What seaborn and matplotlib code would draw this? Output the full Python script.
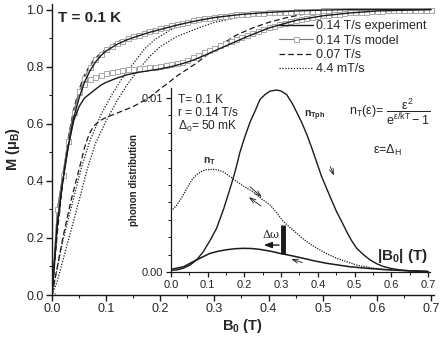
import numpy as np
import matplotlib
matplotlib.use('Agg')
import matplotlib.pyplot as plt
from matplotlib.lines import Line2D
from matplotlib.ticker import MultipleLocator, FormatStrFormatter
import seaborn as sns

# ---------------------------------------------------------------
# Main panel data: magnetisation M vs field B0

# 0.14 T/s experiment (two branches)
exp_up_x = [0, 0.01, 0.02, 0.03, 0.04, 0.05, 0.06, 0.07, 0.08, 0.09, 0.10, 0.12, 0.14, 0.16, 0.18,
            0.20, 0.23, 0.26, 0.30, 0.35, 0.40, 0.45, 0.50, 0.55, 0.60, 0.70]
exp_up_y = [0, 0.25, 0.40, 0.52, 0.62, 0.69, 0.745, 0.785, 0.815, 0.838, 0.855, 0.878, 0.895, 0.908, 0.92,
            0.93, 0.945, 0.958, 0.972, 0.983, 0.99, 0.995, 0.998, 1.0, 1.0, 1.0]
exp_lo_x = [0, 0.01, 0.02, 0.03, 0.04, 0.05, 0.06, 0.07, 0.08, 0.09, 0.10, 0.12, 0.14, 0.16, 0.18, 0.20,
            0.22, 0.24, 0.26, 0.28, 0.30, 0.33, 0.36, 0.40, 0.45, 0.50, 0.55, 0.60, 0.70]
exp_lo_y = [0, 0.25, 0.40, 0.52, 0.61, 0.66, 0.69, 0.705, 0.72, 0.735, 0.745, 0.76, 0.772, 0.78, 0.786, 0.792,
            0.80, 0.81, 0.822, 0.838, 0.855, 0.88, 0.905, 0.935, 0.962, 0.978, 0.988, 0.995, 1.0]

# 0.14 T/s model (two branches, sampled every 0.01 T)
model_x = [0.00, 0.01, 0.02, 0.03, 0.04, 0.05, 0.06, 0.07, 0.08, 0.09,
           0.10, 0.11, 0.12, 0.13, 0.14, 0.15, 0.16, 0.17, 0.18, 0.19,
           0.20, 0.21, 0.22, 0.23, 0.24, 0.25, 0.26, 0.27, 0.28, 0.29,
           0.30, 0.31, 0.32, 0.33, 0.34, 0.35, 0.36, 0.37, 0.38, 0.39,
           0.40, 0.41, 0.42, 0.43, 0.44, 0.45, 0.46, 0.47, 0.48, 0.49,
           0.50, 0.51, 0.52, 0.53, 0.54, 0.55, 0.56, 0.57, 0.58, 0.59,
           0.60, 0.61, 0.62, 0.63, 0.64, 0.65, 0.66, 0.67, 0.68, 0.69, 0.70]
model_up_y = [0.00, 0.30, 0.42, 0.54, 0.64, 0.71, 0.76, 0.80, 0.825, 0.845,
              0.86, 0.872, 0.882, 0.891, 0.899, 0.906, 0.912, 0.918, 0.924, 0.93,
              0.935, 0.94, 0.945, 0.95, 0.954, 0.958, 0.962, 0.966, 0.969, 0.972,
              0.975, 0.977, 0.979, 0.981, 0.983, 0.984, 0.986, 0.987, 0.988, 0.989,
              0.99, 0.991, 0.992, 0.993, 0.993, 0.994, 0.995, 0.995, 0.996, 0.996,
              0.997, 0.997, 0.997, 0.998, 0.998, 0.998, 0.998, 0.999, 0.999, 0.999,
              0.999, 1.0, 1.0, 1.0, 1.0, 1.0, 1.0, 1.0, 1.0, 1.0, 1.0]
model_lo_y = [0.00, 0.30, 0.42, 0.54, 0.64, 0.715, 0.74, 0.755, 0.765, 0.772,
              0.777, 0.781, 0.785, 0.788, 0.79, 0.792, 0.794, 0.796, 0.798, 0.80,
              0.802, 0.805, 0.808, 0.812, 0.817, 0.824, 0.832, 0.841, 0.85, 0.858,
              0.866, 0.874, 0.882, 0.89, 0.898, 0.905, 0.912, 0.919, 0.926, 0.932,
              0.938, 0.944, 0.949, 0.954, 0.959, 0.963, 0.967, 0.971, 0.974, 0.977,
              0.98, 0.982, 0.984, 0.986, 0.988, 0.99, 0.991, 0.992, 0.993, 0.994,
              0.995, 0.996, 0.997, 0.997, 0.998, 0.998, 0.999, 0.999, 0.999, 1.0, 1.0]

# 0.07 T/s (two branches)
d07_up_x = [0, 0.01, 0.02, 0.03, 0.04, 0.05, 0.06, 0.07, 0.08, 0.10, 0.12, 0.14, 0.16, 0.18, 0.20,
            0.24, 0.28, 0.32, 0.36, 0.40, 0.45, 0.50, 0.60, 0.70]
d07_up_y = [0, 0.22, 0.40, 0.55, 0.65, 0.72, 0.77, 0.805, 0.83, 0.862, 0.885, 0.902, 0.915, 0.927, 0.937,
            0.955, 0.968, 0.978, 0.985, 0.99, 0.994, 0.997, 1.0, 1.0]
d07_lo_x = [0, 0.01, 0.02, 0.035, 0.05, 0.06, 0.065, 0.07, 0.075, 0.08, 0.09, 0.10, 0.12, 0.15, 0.18,
            0.20, 0.233, 0.265, 0.305, 0.34, 0.37, 0.40, 0.43, 0.46, 0.50, 0.55, 0.60, 0.70]
d07_lo_y = [0, 0.10, 0.20, 0.33, 0.44, 0.515, 0.545, 0.568, 0.585, 0.597, 0.612, 0.622, 0.637, 0.66, 0.692,
            0.722, 0.77, 0.81, 0.868, 0.91, 0.935, 0.955, 0.97, 0.982, 0.992, 0.998, 1.0, 1.0]

# 4.4 mT/s (two branches)
d44_a_x = [0, 0.005, 0.02, 0.04, 0.055, 0.07, 0.09, 0.11, 0.13, 0.15, 0.17, 0.19, 0.22, 0.25, 0.30,
           0.35, 0.40, 0.50, 0.60, 0.70]
d44_a_y = [0, 0.05, 0.19, 0.34, 0.45, 0.54, 0.63, 0.70, 0.76, 0.81, 0.86, 0.895, 0.93, 0.95, 0.972,
           0.985, 0.992, 0.998, 1.0, 1.0]
d44_b_x = [0, 0.01, 0.03, 0.05, 0.065, 0.08, 0.10, 0.12, 0.14, 0.16, 0.18, 0.20, 0.23, 0.27, 0.30,
           0.35, 0.40, 0.50, 0.60, 0.70]
d44_b_y = [0, 0.05, 0.19, 0.33, 0.44, 0.53, 0.61, 0.68, 0.74, 0.79, 0.835, 0.87, 0.905, 0.935, 0.955,
           0.975, 0.987, 0.996, 1.0, 1.0]

# ---------------------------------------------------------------
# Inset data: phonon distributions vs |B0|
ntph_x = [0, 0.016, 0.034, 0.052, 0.07, 0.088, 0.106, 0.124, 0.143, 0.161, 0.175, 0.188, 0.20, 0.215,
          0.23, 0.242, 0.256, 0.27, 0.288, 0.30, 0.315, 0.33, 0.342, 0.356, 0.37, 0.384, 0.397, 0.41,
          0.424, 0.438, 0.451, 0.465, 0.479, 0.492, 0.506, 0.524, 0.542, 0.56, 0.578, 0.60, 0.63,
          0.66, 0.70]
ntph_y = [0.0001, 0.00012, 0.00022, 0.0004, 0.0007, 0.00117, 0.0018, 0.0025, 0.0036, 0.0048, 0.0058,
          0.0069, 0.0077, 0.0086, 0.0093, 0.0099, 0.0102, 0.0104, 0.01046, 0.0104, 0.0102, 0.0097,
          0.0092, 0.0086, 0.0079, 0.0071, 0.0063, 0.0055, 0.0048, 0.0041, 0.00347, 0.0029, 0.0023,
          0.0018, 0.00136, 0.001, 0.0007, 0.00048, 0.00032, 0.0002, 0.0001, 0.00006, 0.00003]
nt_x = [0, 0.016, 0.03, 0.043, 0.057, 0.07, 0.084, 0.097, 0.115, 0.13, 0.142, 0.16, 0.179, 0.20, 0.224,
        0.247, 0.27, 0.288, 0.306, 0.333, 0.36, 0.383, 0.406, 0.43, 0.451, 0.48, 0.506, 0.542, 0.58,
        0.62, 0.66, 0.70]
nt_y = [0.0035, 0.00385, 0.0043, 0.0048, 0.0053, 0.0056, 0.0058, 0.00588, 0.0059, 0.00585, 0.00576,
        0.0055, 0.0052, 0.0049, 0.0046, 0.0042, 0.00385, 0.0034, 0.0029, 0.0024, 0.0019, 0.00155,
        0.00126, 0.001, 0.00079, 0.00058, 0.0004, 0.00025, 0.00015, 0.00009, 0.00005, 0.00003]
low_x = [0, 0.034, 0.07, 0.106, 0.13, 0.152, 0.175, 0.197, 0.22, 0.242, 0.27, 0.297, 0.33, 0.36, 0.39,
         0.424, 0.456, 0.488, 0.52, 0.542, 0.58, 0.62, 0.66, 0.70]
low_y = [0.00015, 0.0003, 0.0007, 0.00107, 0.0012, 0.00128, 0.00134, 0.00136, 0.00135, 0.0013, 0.0012,
         0.00107, 0.00093, 0.00079, 0.00064, 0.0005, 0.0004, 0.0003, 0.00024, 0.0002, 0.00014,
         0.0001, 0.00006, 0.00003]

main_ticks = [0.0, 0.1, 0.2, 0.3, 0.4, 0.5, 0.6, 0.7]

# ---------------------------------------------------------------
sns.set_theme(style='ticks')
plt.rcParams['font.family'] = ['Liberation Sans', 'DejaVu Sans']
plt.rcParams['mathtext.fontset'] = 'custom'
plt.rcParams['mathtext.rm'] = 'Liberation Sans'
plt.rcParams['mathtext.it'] = 'Liberation Sans:italic'
plt.rcParams['mathtext.bf'] = 'Liberation Sans:bold'

fig = plt.figure(figsize=(4.42, 3.38), dpi=100)
ax = fig.add_axes([0.1176, 0.1272, 0.8636, 0.8615])

dash = (0, (4.5, 2.5))
dot = (0, (1.0, 1.3))
model_kw = dict(color='#7a7a7a', lw=0.8, marker='s', markersize=3.6,
                markerfacecolor='white', markeredgecolor='#a8a8a8', markeredgewidth=0.7)

sns.lineplot(x=d44_a_x, y=d44_a_y, ax=ax, color='k', lw=0.9, linestyle=dot, sort=False, estimator=None)
sns.lineplot(x=d44_b_x, y=d44_b_y, ax=ax, color='k', lw=0.9, linestyle=dot, sort=False, estimator=None)
sns.lineplot(x=d07_up_x, y=d07_up_y, ax=ax, color='k', lw=0.9, linestyle=dash, sort=False, estimator=None)
sns.lineplot(x=d07_lo_x, y=d07_lo_y, ax=ax, color='k', lw=0.9, linestyle=dash, sort=False, estimator=None)
sns.lineplot(x=model_x, y=model_up_y, ax=ax, sort=False, estimator=None, **model_kw)
sns.lineplot(x=model_x, y=model_lo_y, ax=ax, sort=False, estimator=None, **model_kw)
sns.lineplot(x=exp_up_x, y=exp_up_y, ax=ax, color='k', lw=1.0, sort=False, estimator=None)
sns.lineplot(x=exp_lo_x, y=exp_lo_y, ax=ax, color='k', lw=1.0, sort=False, estimator=None)

ax.set_xlim(0, 0.705)
ax.set_ylim(0, 1.02)
ax.set_xticks(main_ticks)
ax.xaxis.set_minor_locator(MultipleLocator(0.05))
ax.yaxis.set_major_locator(MultipleLocator(0.2))
ax.yaxis.set_minor_locator(MultipleLocator(0.1))
ax.xaxis.set_major_formatter(FormatStrFormatter('%.1f'))
ax.yaxis.set_major_formatter(FormatStrFormatter('%.1f'))
ax.tick_params(which='major', direction='out', length=4, width=1, labelsize=9, color='k', pad=2)
ax.tick_params(which='minor', direction='out', length=2.5, width=0.8, color='k')
for s in ['left', 'bottom']:
    ax.spines[s].set_color('k')
    ax.spines[s].set_linewidth(1.0)
sns.despine(ax=ax)
ax.set_facecolor('none')
ax.set_xlabel(r'B$_\mathbf{0}$ (T)', fontsize=10.5, fontweight='bold', labelpad=1)
ax.set_ylabel(r'M (μ$_\mathbf{B}$)', fontsize=10.5, fontweight='bold', labelpad=3)

fig.text(58 / 442, 1 - 18 / 338, 'T = 0.1 K', fontsize=11, fontweight='bold', va='center', ha='left')

handles = [Line2D([], [], color='k', lw=1.0),
           Line2D([], [], markevery=[1], **model_kw),
           Line2D([], [], color='k', lw=0.9, linestyle=dash),
           Line2D([], [], color='k', lw=0.9, linestyle=dot)]
handles[1].set_data([0, 0.5, 1], [0, 0, 0])
labels = ['0.14 T/s experiment', '0.14 T/s model', '0.07 T/s', '4.4 mT/s']
fig.legend(handles, labels, loc='upper left', bbox_to_anchor=(279 / 442, 1 - 20 / 338),
           frameon=False, fontsize=9, handlelength=2.7, handletextpad=0.25,
           labelspacing=0.2, borderpad=0, borderaxespad=0)

# ---------------------------------------------------------------
# Inset
ins = fig.add_axes([171 / 442, 66 / 338, 258.8 / 442, 184.4 / 338])
ins.set_facecolor('none')
sns.lineplot(x=ntph_x, y=ntph_y, ax=ins, color='k', lw=1.0, sort=False, estimator=None)
sns.lineplot(x=nt_x, y=nt_y, ax=ins, color='k', lw=0.9, linestyle=(0, (1.0, 1.0)), sort=False, estimator=None)
sns.lineplot(x=low_x, y=low_y, ax=ins, color='k', lw=1.1, sort=False, estimator=None)

ins.set_xlim(0, 0.705)
ins.set_ylim(0, 0.0106)
ins.set_xticks(main_ticks)
ins.xaxis.set_minor_locator(MultipleLocator(0.05))
ins.yaxis.set_major_locator(MultipleLocator(0.01))
ins.yaxis.set_minor_locator(MultipleLocator(0.001))
ins.xaxis.set_major_formatter(FormatStrFormatter('%.1f'))
ins.yaxis.set_major_formatter(FormatStrFormatter('%.2f'))
ins.tick_params(which='major', direction='out', length=3.5, width=0.9, labelsize=8, color='k', pad=2)
ins.tick_params(which='minor', direction='out', length=2, width=0.7, color='k')
for s in ['left', 'bottom']:
    ins.spines[s].set_color('k')
    ins.spines[s].set_linewidth(0.9)
sns.despine(ax=ins)
ins.set_ylabel('phonon distribution', fontsize=7, fontweight='bold', labelpad=2)

# thick bar and arrows
ins.plot([0.305, 0.305], [0.00105, 0.0027], color='k', lw=3.5, solid_capstyle='butt')
ins.annotate('', xy=(0.245, 0.00155), xytext=(0.302, 0.00155),
             arrowprops=dict(arrowstyle='-|>,head_length=0.4,head_width=0.15', lw=1.0, color='k'))
ins.text(0.272, 0.0021, 'Δω', fontsize=8, ha='center', va='center', family='DejaVu Serif')
small = dict(arrowstyle='->,head_length=0.35,head_width=0.12', lw=0.6, color='k')
ins.annotate('', xy=(0.447, 0.0054), xytext=(0.431, 0.0062), arrowprops=small)
ins.annotate('', xy=(0.253, 0.0042), xytext=(0.21, 0.0050), arrowprops=small)
ins.annotate('', xy=(0.206, 0.0044), xytext=(0.251, 0.0037), arrowprops=small)
ins.annotate('', xy=(0.32, 0.00079), xytext=(0.365, 0.0005), arrowprops=small)

ins.text(0.39, 0.0090, r'$\mathbf{n_{Tph}}$', fontsize=7.5, ha='center', va='center')
ins.text(0.105, 0.0064, r'$\mathbf{n_{T}}$', fontsize=7.5, ha='center', va='center')
ins.text(0.70, 0.0009, r'|B$_\mathbf{0}$| (T)', fontsize=11, fontweight='bold', ha='right', va='center')

ins.text(0.02, 0.0099, 'T= 0.1 K', fontsize=8.6, ha='left', va='center')
ins.text(0.02, 0.00912, 'r = 0.14 T/s', fontsize=8.6, ha='left', va='center')
ins.text(0.02, 0.00835, r'Δ$_0$= 50 mK', fontsize=8.6, ha='left', va='center')
ins.text(0.595, 0.0092, r'n$_\mathrm{T}$(ε)= $\dfrac{\mathrm{ε^2}}{\mathrm{e^{ε/kT}-1}}$', fontsize=9,
         ha='center', va='center')
ins.text(0.59, 0.0070, r'ε=Δ$_\mathrm{H}$', fontsize=9, ha='center', va='center')

fig.savefig('out.png', dpi=100)
